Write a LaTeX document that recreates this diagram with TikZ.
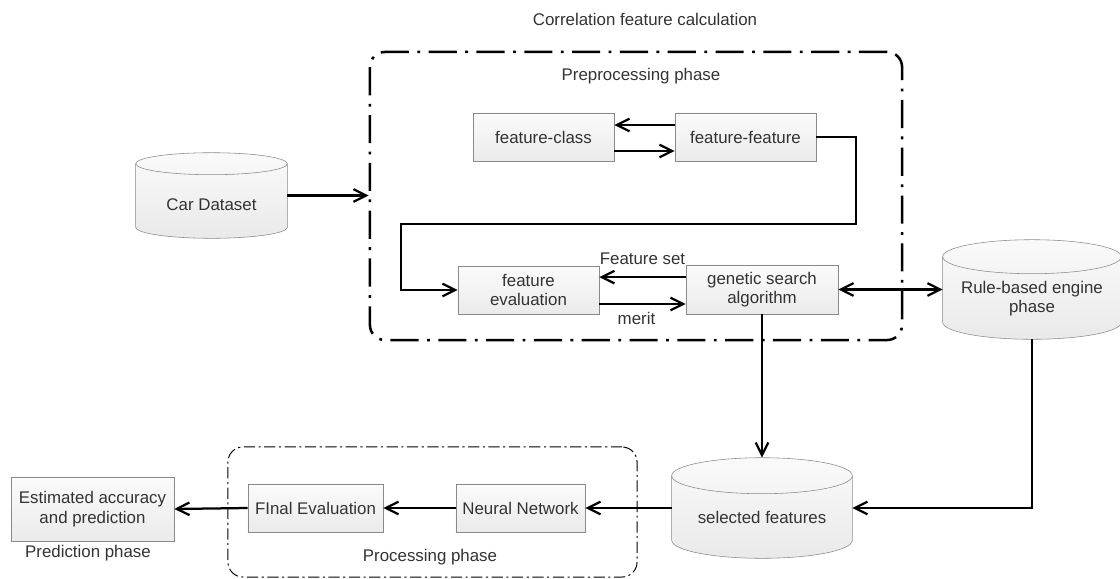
\documentclass[tikz,border=0pt]{standalone}
\usepackage{fontspec}
\setmainfont{Liberation Sans}
\usetikzlibrary{positioning,calc,backgrounds,arrows.meta,shadows}
\definecolor{boxline}{HTML}{8A8A8A}
\definecolor{inktext}{HTML}{333333}
\newcommand\drawdrum[2]{%
  \path[drumbody] let \p1=($(#1.east)-(#1.west)$) in
    ([yshift=-#2]#1.north west) -- ([yshift=#2]#1.south west)
    arc[start angle=180,end angle=360,x radius=0.5*\x1,y radius=#2]
    -- ([yshift=-#2]#1.north east)
    arc[start angle=0,end angle=180,x radius=0.5*\x1,y radius=#2] -- cycle;
  \draw[draw=boxline] let \p1=($(#1.east)-(#1.west)$) in
    ([yshift=-#2]#1.north west)
    arc[start angle=180,end angle=360,x radius=0.5*\x1,y radius=#2];}

\begin{document}
\begin{tikzpicture}[x=0.025cm,y=0.025cm,
      font=\fontsize{12}{13.8}\selectfont,text=inktext,
      box/.style={draw=boxline,top color=gray!3,bottom color=gray!16,align=center,inner sep=2pt,
        drop shadow={shadow xshift=0.7pt,shadow yshift=-0.7pt,opacity=0.25}},
      drum/.style={inner sep=0pt},
      drumtext/.style={yshift=-0.225cm,align=center},
      drumbody/.style={draw=boxline,top color=gray!4,bottom color=gray!17},
      bigphase/.style={draw,line width=1.8pt,rounded corners=0.375cm,
        dash pattern=on 20pt off 6pt on 2pt off 6pt},
      smallphase/.style={draw,line width=0.7pt,rounded corners=0.375cm,
        dash pattern=on 8pt off 2.5pt on 1.5pt off 2.5pt},
      conn/.style={line width=1.6pt,-{Straight Barb[length=9pt,width=9pt]}},
      twoway/.style={line width=1.6pt,{Straight Barb[length=9pt,width=9pt]}-{Straight Barb[length=9pt,width=9pt]}}]
    \useasboundingbox (0,0) rectangle (1120,-579);
    \node (title) at (645,-19) {Correlation feature calculation};
    \node[bigphase,minimum width=13.3cm,minimum height=7.2cm] (pre) at (636,-196) {};
    \node (pretitle) at (641,-76) {Preprocessing phase};
    \node[box,minimum width=3.525cm,minimum height=1.2cm] (fc) at (543.5,-137) {feature-class};
    \node[box,minimum width=3.525cm,minimum height=1.2cm] (ff) at (745.5,-137) {feature-feature};
    \node[box,minimum width=3.525cm,minimum height=1.2cm] (fe) at (528.5,-290) {feature\\evaluation};
    \node[box,minimum width=3.8cm,minimum height=1.225cm] (gsa) at (762,-289.5) {genetic search\\algorithm};
    \node[drum,minimum width=3.775cm,minimum height=2.125cm,
      label={[drumtext]center:Car Dataset}] (car) at (211.5,-195.5) {};
    \node[drum,minimum width=4.45cm,minimum height=2.475cm,
      label={[drumtext]center:{Rule-based engine\\phase}}] (rule) at (1032,-289.5) {};
    \node[drum,minimum width=4.5cm,minimum height=2.5cm,
      label={[drumtext]center:selected features}] (sel) at (762,-508) {};
    \node[smallphase,minimum width=10.225cm,minimum height=3.25cm] (proc) at (432.5,-512) {};
    \node[box,minimum width=3.225cm,minimum height=1.2cm] (nn) at (520.5,-508) {Neural Network};
    \node[box,minimum width=3.375cm,minimum height=1.2cm] (fin) at (315.5,-508) {FInal Evaluation};
    \node[box,minimum width=4.075cm,minimum height=1.6cm] (est) at (92.5,-509) {Estimated accuracy\\and prediction};
    \node (predlabel) at (88,-553) {Prediction phase};
    \node (proclabel) at (430,-557) {Processing phase};
    \begin{scope}[on background layer]
      \drawdrum{car}{0.275cm}
      \drawdrum{rule}{0.425cm}
      \drawdrum{sel}{0.45cm}
    \end{scope}
    \coordinate (loopA) at (856,-224);
    \coordinate (loopB) at (401,-224);
    \draw[conn] ([yshift=0.3cm]ff.west) -- ([yshift=0.3cm]fc.east);
    \draw[conn] ([yshift=-0.35cm]fc.east) -- ([yshift=-0.35cm]ff.west);
    \draw[conn] (ff.east) -| (loopA) -- (loopB) |- (fe.west);
    \draw[conn] ([yshift=0.31cm]gsa.west) -- ([yshift=0.31cm]gsa.west -| fe.east)
      node[midway,above=5pt] {Feature set};
    \draw[conn] ([yshift=-0.35cm]fe.east) -- ([yshift=-0.35cm]fe.east -| gsa.west)
      node[pos=0.43,below=2pt] {merit};
    \draw[twoway] (gsa.east) -- (rule.west);
    \draw[conn] (car.east) -- (car.east -| pre.west);
    \draw[conn] (gsa.south) -- (sel.north);
    \draw[conn] (rule.south) |- (sel.east);
    \draw[conn] (sel.west) -- (nn.east);
    \draw[conn] (nn.west) -- (fin.east);
    \draw[conn] (fin.west) -- (est.east);
  \end{tikzpicture}
\end{document}
